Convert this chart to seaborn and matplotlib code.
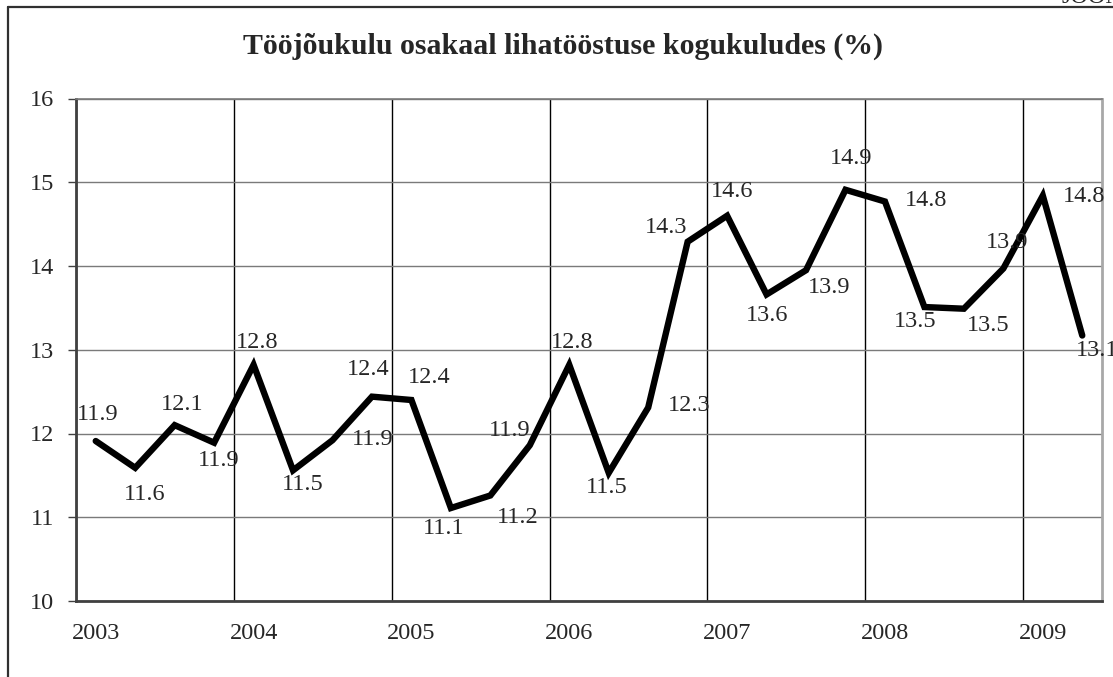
" Tööjõukulu osakaal lihatööstuse kogukuludes - quarterly line chart"

import numpy as np
import pandas as pd
import matplotlib.pyplot as plt
import seaborn as sns

# Data (quarters 2003 Q1 .. 2009 Q2)
years = [2003, 2004, 2005, 2006, 2007, 2008, 2009]
share = [11.91, 11.59, 12.10, 11.89, 12.82, 11.56, 11.92, 12.44,
         12.40, 11.11, 11.26, 11.86, 12.82, 11.53, 12.31, 14.29,
         14.60, 13.66, 13.95, 14.91, 14.77, 13.51, 13.49, 13.97,
         14.84, 13.17]
share_labels = ['11.9', '11.6', '12.1', '11.9', '12.8', '11.5', '11.9', '12.4',
                '12.4', '11.1', '11.2', '11.9', '12.8', '11.5', '12.3', '14.3',
                '14.6', '13.6', '13.9', '14.9', '14.8', '13.5', '13.5', '13.9',
                '14.8', '13.1']
title = 'Tööjõukulu osakaal lihatööstuse kogukuludes (%)'

# label placement (pixels right, pixels down from the point)
label_offsets = [(2, -27), (9, 27), (8, -21), (5, 18), (4, -22), (10, 14), (40, -1), (-4, -27),
                 (18, -22), (-7, 20), (27, 22), (-20, -15), (3, -22), (-2, 15), (41, -2), (-22, -14),
                 (5, -24), (1, 21), (23, 17), (6, -31), (41, -1), (-9, 14), (24, 17), (4, -26),
                 (41, 1), (15, 15)]

df = pd.DataFrame({'pos': np.arange(len(share)) + 0.5, 'share': share})

sns.set_style('white')
plt.rcParams['font.family'] = ['Liberation Serif', 'DejaVu Serif']

W, H = 1113, 677
fig = plt.figure(figsize=(W / 100, H / 100), dpi=100)
ax = fig.add_axes([76 / W, 76 / H, 1026 / W, 502.5 / H])

sns.lineplot(data=df, x='pos', y='share', color='black', lw=4.6, ax=ax,
             solid_joinstyle='miter')

for x, y, lab, (dx, dy) in zip(df['pos'], df['share'], share_labels, label_offsets):
    ax.annotate(lab, (x, y), xytext=(dx, -dy), textcoords='offset pixels',
                ha='center', va='center', fontsize=17.5, clip_on=False)

ax.set_xlim(0, len(share))
ax.set_ylim(10, 16)
ax.set_yticks(range(10, 17))
ax.set_xticks([4 * k + 0.5 for k in range(len(years))])
ax.set_xticklabels([str(y) for y in years])
ax.set_xticks(range(0, len(share), 4), minor=True)
ax.set_xlabel('')
ax.set_ylabel('')

ax.tick_params(axis='x', which='major', length=0, pad=16, labelsize=17.5)
ax.tick_params(axis='x', which='minor', length=6, width=1, color='#404040', direction='out')
ax.tick_params(axis='y', length=6, width=1, color='#404040', pad=10, labelsize=17.5, left=True)

ax.grid(False)
ax.yaxis.grid(True, color='#7a7a7a', lw=1)
ax.xaxis.grid(True, which='minor', color='black', lw=1)
ax.set_axisbelow(True)

for side in ['left', 'bottom']:
    ax.spines[side].set_color('#404040')
    ax.spines[side].set_linewidth(2)
ax.spines['top'].set_color('#7a7a7a')
ax.spines['top'].set_linewidth(1.2)
ax.spines['right'].set_color('#a8a8a8')
ax.spines['right'].set_linewidth(2)

# outer chart frame
fig.add_artist(plt.Line2D([7.5 / W, 7.5 / W], [0, 1 - 6.5 / H], transform=fig.transFigure,
                          color='#303030', lw=1.6))
fig.add_artist(plt.Line2D([7.5 / W, 1], [1 - 6.5 / H, 1 - 6.5 / H], transform=fig.transFigure,
                          color='#303030', lw=1.6))

fig.text(563 / W, 1 - 46 / H, title, ha='center', va='center', fontsize=21.5, fontweight='bold')
fig.text(1062 / W, 1 - 3 / H, 'JOONIS', ha='left', va='baseline', fontsize=17.5)

fig.savefig('out.png', dpi=100)
